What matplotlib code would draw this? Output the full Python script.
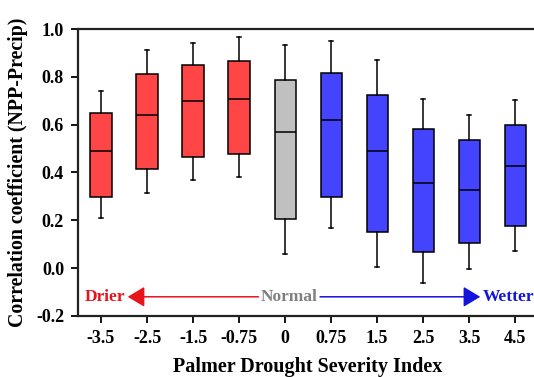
import matplotlib
matplotlib.use("Agg")
import matplotlib.pyplot as plt

# --- data
pdsi = ['-3.5', '-2.5', '-1.5', '-0.75', '0', '0.75', '1.5', '2.5', '3.5', '4.5']
whislo = [0.208, 0.316, 0.369, 0.380, 0.059, 0.166, 0.004, -0.061, -0.005, 0.072]
q1 = [0.296, 0.415, 0.465, 0.477, 0.204, 0.297, 0.149, 0.068, 0.103, 0.177]
med = [0.488, 0.640, 0.700, 0.708, 0.569, 0.620, 0.489, 0.358, 0.327, 0.428]
q3 = [0.648, 0.812, 0.849, 0.867, 0.786, 0.818, 0.726, 0.581, 0.534, 0.598]
whishi = [0.740, 0.911, 0.943, 0.967, 0.934, 0.949, 0.870, 0.708, 0.641, 0.702]
group = ['dry'] * 4 + ['normal'] + ['wet'] * 5

colors = {'dry': '#FF4646', 'normal': '#C0C0C0', 'wet': '#4444FF'}

plt.rcParams['font.family'] = ['Liberation Serif', 'DejaVu Serif']
plt.rcParams['font.weight'] = 'bold'

fig = plt.figure(figsize=(5.34, 3.77), dpi=100)
ax = fig.add_axes([0.146, 0.162, 0.862, 0.761])

stats = []
for i in range(len(pdsi)):
    stats.append(dict(whislo=whislo[i], q1=q1[i], med=med[i], q3=q3[i],
                      whishi=whishi[i], fliers=[]))

bp = ax.bxp(stats, positions=range(len(pdsi)), widths=0.46, patch_artist=True,
            showfliers=False,
            boxprops=dict(linewidth=1.1, edgecolor='black'),
            medianprops=dict(color='black', linewidth=1.1),
            whiskerprops=dict(color='black', linewidth=1.1),
            capprops=dict(color='black', linewidth=1.1),
            capwidths=0.09)
for patch, g in zip(bp['boxes'], group):
    patch.set_facecolor(colors[g])

ax.set_xlim(-0.5, 9.5)
ax.set_ylim(-0.2, 1.0)
ax.set_yticks([-0.2, 0.0, 0.2, 0.4, 0.6, 0.8, 1.0])
ax.set_yticklabels(['-0.2', '0.0', '0.2', '0.4', '0.6', '0.8', '1.0'])
ax.set_xticks(range(len(pdsi)))
ax.set_xticklabels(pdsi)
ax.tick_params(labelsize=13, width=1.3, length=5, direction='out', pad=5)
for s in ['left', 'bottom', 'top']:
    ax.spines[s].set_linewidth(1.6)
    ax.spines[s].set_color('#222222')
ax.spines['right'].set_visible(False)

ax.set_xlabel('Palmer Drought Severity Index', fontsize=14.5, fontweight='bold', labelpad=7)
ax.set_ylabel('Correlation coefficient (NPP-Precip)', fontsize=14.3, fontweight='bold', labelpad=6)

# direction annotation
ya = -0.12
head = '-|>,head_length=0.4,head_width=0.24'
ax.text(-0.36, ya, 'Drier', color='#E8141C', fontsize=12.5, fontweight='bold',
        ha='left', va='center')
ax.annotate('', xy=(0.58, ya), xytext=(3.42, ya),
            arrowprops=dict(arrowstyle=head, color='#E8141C', lw=1.1,
                            mutation_scale=26, shrinkA=0, shrinkB=0))
ax.text(4.09, ya, 'Normal', color='#808080', fontsize=12.5, fontweight='bold',
        ha='center', va='center')
ax.annotate('', xy=(8.24, ya), xytext=(4.76, ya),
            arrowprops=dict(arrowstyle=head, color='#1414DC', lw=1.1,
                            mutation_scale=26, shrinkA=0, shrinkB=0))
ax.text(8.29, ya, 'Wetter', color='#1414DC', fontsize=12.5, fontweight='bold',
        ha='left', va='center')

fig.savefig('out.png', dpi=100)
